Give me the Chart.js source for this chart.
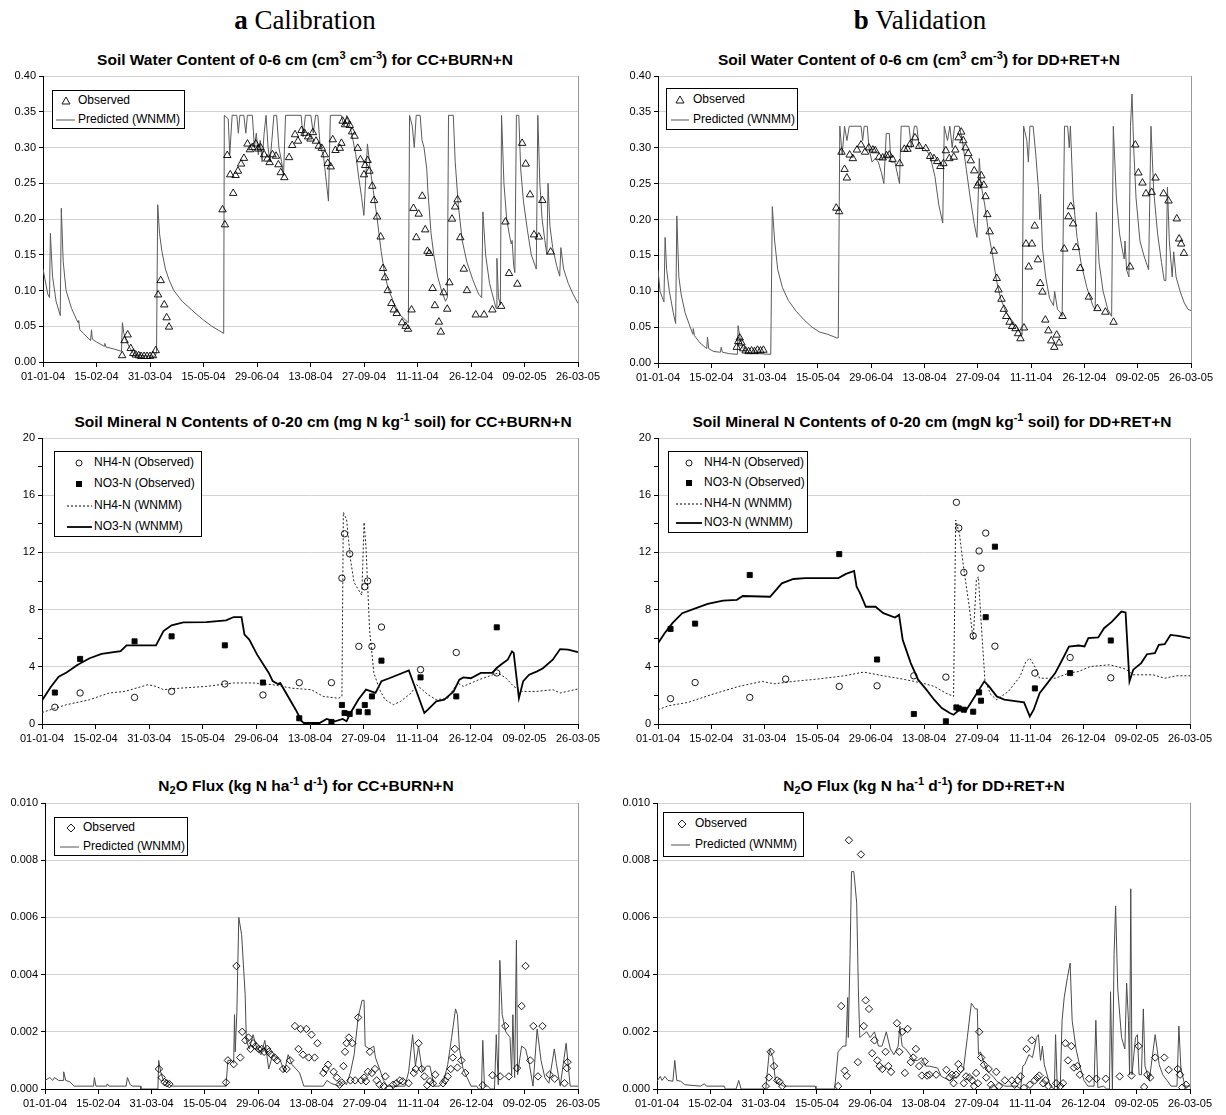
<!DOCTYPE html>
<html><head><meta charset="utf-8">
<script src="https://cdn.jsdelivr.net/npm/chart.js@4.4.0/dist/chart.umd.min.js"></script>
<style>
body{margin:0;background:#fff;width:1226px;height:1115px;position:relative;overflow:hidden;font-family:"Liberation Sans",Arial,sans-serif;color:#000;}
.hdr{position:absolute;font-family:"Liberation Serif","Times New Roman",serif;font-size:27px;width:400px;text-align:center;line-height:30px;}
.ttl{position:absolute;font-weight:bold;font-size:15.5px;width:640px;text-align:center;white-space:nowrap;line-height:18px;}
.ttl sup{font-size:11px;line-height:0;vertical-align:6px;}
.ttl sub{font-size:11px;line-height:0;vertical-align:-3px;}
.leg{position:absolute;border:1px solid #000;background:#fff;font-size:12px;box-sizing:border-box;}
.leg .row{position:absolute;left:0;white-space:nowrap;line-height:15px;}
.leg svg{position:absolute;left:0;top:0;}
canvas{position:absolute;}
</style>
</head><body>
<div class="hdr" style="left:105px;top:5px;"><b>a</b> Calibration</div>
<div class="hdr" style="left:720px;top:5px;"><b>b</b> Validation</div>
<div class="ttl" style="left:-15px;top:51px;">Soil Water Content of 0-6 cm (cm<sup>3</sup> cm<sup>-3</sup>) for CC+BURN+N</div>
<div class="ttl" style="left:599px;top:51px;">Soil Water Content of 0-6 cm (cm<sup>3</sup> cm<sup>-3</sup>) for DD+RET+N</div>
<div class="ttl" style="left:3px;top:413px;">Soil Mineral N Contents of 0-20 cm (mg N kg<sup>-1</sup> soil) for CC+BURN+N</div>
<div class="ttl" style="left:612px;top:413px;">Soil Mineral N Contents of 0-20 cm (mgN kg<sup>-1</sup> soil) for DD+RET+N</div>
<div class="ttl" style="left:-14px;top:777px;">N<sub>2</sub>O Flux (kg N ha<sup>-1</sup> d<sup>-1</sup>) for CC+BURN+N</div>
<div class="ttl" style="left:604px;top:777px;">N<sub>2</sub>O Flux (kg N ha<sup>-1</sup> d<sup>-1</sup>) for DD+RET+N</div>
<canvas id="c1"></canvas><canvas id="c2"></canvas><canvas id="c3"></canvas>
<canvas id="c4"></canvas><canvas id="c5"></canvas><canvas id="c6"></canvas>
<script>
// ---------- tick labels ----------
const xTickLabels = ['01-01-04','15-02-04','31-03-04','15-05-04','29-06-04','13-08-04','27-09-04','11-11-04','26-12-04','09-02-05','26-03-05'];
const ySwcTicks = ['0.00','0.05','0.10','0.15','0.20','0.25','0.30','0.35','0.40'];
const yMinNTicks = ['0','4','8','12','16','20'];
const yN2oTicks = ['0.000','0.002','0.004','0.006','0.008','0.010'];

// ---------- data: [day since 01-01-04, value] ----------
const swcA_obs = [[66.6,0.009],[68.6,0.030],[71.2,0.038],[73.8,0.019],[76,0.012],[78,0.01],[80.5,0.009],[82.5,0.008],[85,0.008],[87.5,0.008],[90,0.008],[92.5,0.009],[94.8,0.016],[96.8,0.094],[99,0.114],[102,0.080],[104,0.062],[106,0.049],
[151,0.213],[153,0.192],[155,0.289],[157.5,0.262],[160,0.236],[162,0.261],[164,0.267],[166.6,0.277],[169,0.285],[172,0.305],[174,0.297],[176,0.300],[179,0.305],[181,0.298],[183,0.300],[186,0.290],[188.6,0.284],[190.6,0.279],[193,0.290],[196,0.288],[198,0.276],[200,0.265],[203,0.258],[207,0.286],[209.6,0.303],[212,0.318],[214.5,0.309],[217.5,0.324],[220,0.320],[223,0.315],[225,0.312],[227,0.321],[229.6,0.309],[232,0.302],[234.5,0.299],[237,0.290],[239.5,0.278],[242,0.273],[243.7,0.311],[246,0.296],[249.6,0.299],[251,0.306],[252,0.337],[254,0.332],[256,0.337],[258,0.331],[260,0.322],[262,0.316],[264.7,0.299],[267,0.283],[270,0.262],[271,0.275],[273,0.282],[274.5,0.267],[277,0.246],[278.5,0.226],[281,0.203],[284,0.175],[286,0.131],[287.7,0.118],[290,0.100],[293,0.082],[295,0.073],[297.5,0.068],[302,0.055],[305,0.050],[307,0.046],[310,0.073],[311.6,0.215],[314,0.174],[316,0.207],[319,0.232],[321.5,0.185],[323.4,0.155],[325,0.152],[327.7,0.103],[329.6,0.079],[333,0.056],[334.6,0.042],[337,0.097],[340,0.074],[341.8,0.111],[344,0.200],[346.7,0.217],[348.7,0.227],[351,0.174],[354,0.130],[356.6,0.100],[364,0.066],[371,0.066],[378,0.073],[385.4,0.078],[389,0.196],[392,0.124],[399,0.109],[403,0.306],[406,0.277],[409.7,0.234],[413,0.178],[417,0.175],[420,0.226],[427,0.154]];

const swcA_pred = [[0,0.13],[4,0.095],[5.5,0.09],[6.2,0.18],[8,0.12],[11,0.085],[14.5,0.065],[15.4,0.215],[17,0.14],[19.4,0.10],[24,0.075],[28,0.06],[29.5,0.055],[30,0.058],[31,0.045],[34,0.04],[40,0.03],[40.8,0.045],[41.5,0.032],[45,0.028],[51.5,0.022],[52,0.026],[53,0.021],[60,0.018],[66,0.015],[66.8,0.055],[68,0.04],[70,0.03],[73,0.02],[76,0.012],[80,0.009],[94.5,0.008],[95.5,0.015],[96.5,0.22],[98,0.18],[100,0.155],[103,0.13],[106,0.115],[110,0.1],[117,0.085],[127,0.07],[134,0.06],[142,0.05],[152,0.04],
[152.5,0.345],[155.8,0.34],[157.1,0.29],[159.1,0.345],[163,0.345],[164.3,0.32],[165.6,0.345],[168.9,0.345],[170.6,0.32],[171.9,0.345],[176.1,0.345],[177.8,0.30],[179.4,0.32],[181.1,0.29],[182.7,0.31],[184.3,0.28],[186,0.32],[187.6,0.345],[189.3,0.30],[190.9,0.28],[192.5,0.31],[194.2,0.345],[196.5,0.345],[198.4,0.30],[200.7,0.28],[202.3,0.26],[204,0.345],[217.1,0.345],[218.8,0.315],[220.7,0.345],[225.3,0.345],[227.3,0.32],[229.3,0.345],[231.2,0.345],[233.2,0.30],[235.8,0.29],[237.8,0.26],[240.1,0.225],[241.7,0.345],[250.9,0.345],[253.2,0.33],[255.5,0.345],[258.1,0.33],[260.8,0.31],[263.1,0.29],[265.4,0.26],[268,0.23],[269.9,0.205],[272.9,0.305],[275.2,0.27],[277.8,0.24],[281.1,0.20],[284.4,0.155],[287.7,0.12],[290.9,0.10],[295.9,0.08],[300.8,0.065],[307.3,0.055],
[308.3,0.345],[310.6,0.33],[312.3,0.30],[313.9,0.345],[317.2,0.345],[318.8,0.31],[320.5,0.30],[322.8,0.27],[323.7,0.24],[326.4,0.18],[328.7,0.15],[331.9,0.12],[335.2,0.10],[338.5,0.085],[340.1,0.09],[341.1,0.345],[345.1,0.345],[346.7,0.28],[349.3,0.22],[352.6,0.17],[356.5,0.14],[361.5,0.115],[366.4,0.095],[369,0.09],[370,0.21],[372.3,0.15],[375.6,0.11],[379.5,0.085],[381.1,0.075],[381.8,0.145],[383.1,0.09],[384.7,0.08],[385.7,0.345],[387.7,0.25],[390,0.20],[392.6,0.175],[393.9,0.165],[394.6,0.17],[395.9,0.135],[396.9,0.125],[398.2,0.345],[400.2,0.345],[401.8,0.27],[404.1,0.225],[407.4,0.185],[410.7,0.15],[414.9,0.13],[416.2,0.345],[417.9,0.25],[419.8,0.20],[422.1,0.17],[423.8,0.15],[424.8,0.25],[426.4,0.19],[428.7,0.16],[432,0.135],[434.6,0.12],[435.6,0.16],[437.9,0.13],[441.8,0.11],[445.8,0.095],[450,0.082]];

const swcB_obs = [[150.5,0.216],[152.9,0.211],[154.9,0.294],[157.5,0.270],[159.5,0.258],[161.8,0.290],[164.5,0.285],[168,0.297],[171.4,0.304],[174.8,0.294],[178,0.300],[181.4,0.297],[183.4,0.296],[186.7,0.287],[189.7,0.286],[193,0.289],[195.3,0.290],[198,0.284],[204,0.278],[208,0.298],[210.6,0.298],[213,0.305],[217,0.314],[220.5,0.302],[226,0.299],[229.8,0.288],[233,0.285],[235.8,0.281],[238.4,0.274],[241,0.278],[243,0.296],[246,0.285],[249.7,0.287],[251,0.297],[253.7,0.314],[256,0.322],[257.7,0.310],[259.6,0.300],[262,0.292],[264,0.282],[267,0.268],[269.6,0.247],[271,0.251],[273,0.261],[275,0.248],[276.5,0.232],[278,0.207],[280,0.183],[283.5,0.156],[286,0.118],[287.5,0.102],[290,0.089],[292,0.075],[294,0.065],[296.8,0.057],[299,0.051],[301.8,0.048],[304,0.041],[306,0.034],[309,0.049],[310.7,0.166],[313,0.134],[315.7,0.166],[318,0.191],[320.7,0.144],[322.7,0.111],[324.6,0.099],[327,0.060],[329.6,0.045],[332,0.031],[334.6,0.022],[336.6,0.039],[338.6,0.028],[341.5,0.065],[343,0.159],[346.5,0.204],[348.5,0.218],[350.5,0.194],[353,0.161],[356.5,0.132],[363.8,0.092],[371,0.076],[377.7,0.071],[384.6,0.057],[398.6,0.134],[403,0.304],[405.6,0.265],[409,0.251],[412,0.236],[416.8,0.238],[420,0.258],[426.8,0.236],[431,0.226],[438,0.201],[440,0.173],[441.7,0.166],[444,0.153],
[66.5,0.022],[67.8,0.03],[69,0.035],[70.5,0.028],[72,0.02],[74,0.017],[76.5,0.016],[79,0.017],[81.5,0.016],[84,0.018],[86.5,0.017],[89,0.018]];

const swcB_pred = [[0,0.13],[1.7,0.10],[5,0.085],[6,0.175],[7.3,0.13],[9.6,0.10],[12.9,0.07],[14.9,0.055],[15.9,0.205],[17.6,0.12],[19.6,0.095],[22.9,0.07],[27.2,0.05],[29.5,0.04],[29.8,0.048],[30.8,0.038],[35.5,0.028],[41.1,0.02],[41.8,0.036],[42.8,0.02],[47.1,0.016],[52.7,0.015],[53.4,0.022],[54.4,0.015],[60.4,0.013],[67,0.012],[67.6,0.052],[69.3,0.035],[72,0.02],[74.6,0.014],[95.2,0.012],[96.5,0.218],[98.5,0.17],[101.1,0.13],[105.1,0.105],[110.1,0.087],[116.7,0.072],[123.4,0.06],[130,0.05],[136.6,0.043],[143.3,0.04],[150.9,0.035],[152.2,0.035],
[153.5,0.33],[155.5,0.29],[157.5,0.33],[159.5,0.31],[161.5,0.33],[171.4,0.33],[172.8,0.31],[174.1,0.33],[176.7,0.33],[178.1,0.30],[180.7,0.28],[183.4,0.285],[186,0.28],[188.7,0.265],[190.7,0.25],[192.7,0.32],[195.3,0.32],[196.6,0.28],[200,0.28],[202.6,0.26],[203.9,0.25],[205.3,0.33],[211.9,0.33],[213.9,0.30],[216.5,0.33],[218.5,0.33],[220.5,0.30],[224.5,0.30],[229.5,0.29],[233.8,0.26],[237.1,0.22],[240.4,0.195],[241.7,0.33],[244.4,0.31],[246.4,0.33],[248.4,0.30],[250.4,0.33],[254.3,0.33],[257,0.31],[260.3,0.27],[263.6,0.23],[266.9,0.195],[269.3,0.175],[271.3,0.285],[272.6,0.25],[275.9,0.22],[279.2,0.18],[282.5,0.15],[285.8,0.115],[289.2,0.09],[294.1,0.07],[300.8,0.055],[307.4,0.04],
[308.7,0.33],[311.4,0.31],[312.7,0.28],[314,0.33],[316.7,0.33],[319,0.29],[321.3,0.24],[322.3,0.20],[323,0.235],[324.6,0.16],[327.3,0.12],[330.6,0.09],[333.9,0.08],[334.9,0.10],[337.2,0.075],[339.9,0.07],[341.2,0.065],[343.2,0.33],[345.9,0.33],[347.2,0.30],[348.2,0.33],[350.5,0.23],[353.8,0.175],[357.1,0.14],[362.1,0.105],[367.1,0.08],[369.1,0.075],[370.1,0.21],[372.4,0.14],[375.8,0.10],[379.7,0.075],[383,0.065],[384.4,0.33],[387,0.23],[389.7,0.18],[392.3,0.155],[393.6,0.145],[394.3,0.17],[395.6,0.13],[397.6,0.12],[398.9,0.33],[400.2,0.375],[401.6,0.30],[403.6,0.23],[406.9,0.17],[410.2,0.15],[414.2,0.13],[416.2,0.33],[418.5,0.24],[421.8,0.18],[425.1,0.14],[427.4,0.115],[428.8,0.115],[430.1,0.245],[431.7,0.17],[434.1,0.12],[435.4,0.155],[437.4,0.12],[440.8,0.10],[444,0.085],[447.3,0.075],[450,0.073]];

const nA_nh4_obs = [[10.8,1.17],[32,2.17],[77.7,1.86],[108.8,2.28],[153.5,2.8],[185.5,2.03],[216,2.89],[243,2.89],[251.8,10.2],[254,13.3],[258.3,11.9],[266,5.43],[271,9.6],[273.4,10.0],[277,5.43],[285,6.78],[317.8,3.8],[347.8,5.0],[381.8,3.57]];
const nA_no3_obs = [[10.8,2.2],[32,4.55],[77.7,5.78],[108.8,6.13],[153.5,5.5],[185.5,2.9],[216,0.4],[243,0.14],[251.8,1.33],[254,0.77],[258.3,0.7],[266,0.86],[271,1.33],[273.4,0.82],[277,1.93],[285,4.43],[317.8,3.26],[347.8,1.93],[381.8,6.76]];
const nA_nh4_pred = [[0,0.8],[10.8,1.1],[20.6,1.35],[40,1.7],[56.5,2.17],[69.6,2.28],[89,2.75],[95.7,2.63],[102,2.4],[115,2.5],[138,2.63],[161,2.87],[177,2.87],[193.7,2.75],[210,2.5],[226,2.4],[236,1.93],[249,1.8],[251.8,1.93],[253,14.8],[255.7,14.3],[259,11.5],[262,9.9],[267,9.2],[268.5,9.0],[270.4,14.1],[272,12.4],[275,6.6],[278.6,3.57],[283.5,2.4],[288,1.7],[295,1.35],[301,1.58],[310,2.17],[314.5,2.75],[324,2.05],[331,1.7],[340.6,1.8],[348.8,2.87],[353.7,2.63],[366.8,3.1],[383,3.57],[389.6,3.2],[396,2.63],[402.6,2.28],[415.7,2.28],[428.8,2.4],[435,2.17],[450,2.45]];
const nA_no3_pred = [[0,1.65],[7.5,2.6],[14,3.3],[20.6,3.6],[30,4.15],[40,4.6],[50,4.9],[66,5.1],[71,5.5],[95.7,5.5],[102,6.5],[108.8,6.9],[118.6,7.1],[138,7.13],[154.5,7.25],[161,7.48],[167.5,7.48],[170,6.25],[174,5.9],[180.6,4.85],[190.4,3.57],[193.7,3.0],[198,2.8],[200,2.87],[213,1.0],[218,0.19],[219.8,0.07],[233,0.07],[239,0.35],[246,0.19],[252.5,0.35],[255.7,0.19],[259,0.77],[265.5,1.7],[272,2.4],[280,2.17],[285,3.0],[291.6,3.2],[308,3.75],[321,0.77],[324,1.0],[331,1.58],[337.7,1.7],[345.6,2.28],[350.4,3.1],[353.7,3.26],[360,3.2],[368.4,3.57],[378,3.57],[381.5,3.9],[386,4.2],[391,4.5],[394.6,5.08],[396,4.97],[400.4,1.8],[404,3.0],[409,3.45],[415.7,3.68],[420.6,3.9],[428.8,4.5],[435,5.24],[441.7,5.2],[450,5.03]];

const nB_nh4_obs = [[10.6,1.77],[31.4,2.9],[77.6,1.86],[108,3.14],[153.3,2.63],[185.3,2.67],[216.4,3.37],[243.5,3.28],[252.4,15.5],[254.4,13.7],[258.7,10.6],[266.6,6.16],[271.6,12.1],[273.2,10.9],[277.2,13.35],[285,5.44],[318.8,3.56],[348.6,4.65],[383,3.23]];
const nB_no3_obs = [[10.6,6.65],[31.4,7.02],[77.6,10.42],[153.3,11.88],[185.3,4.51],[216.4,0.7],[243.5,0.19],[252.4,1.16],[254.4,1.09],[258.7,1.0],[266.6,0.86],[271.6,2.21],[273.2,1.63],[277.2,7.47],[285,12.4],[318.8,2.49],[348.6,3.56],[383,5.84]];
const nB_nh4_pred = [[0,1.0],[9,1.28],[25.4,1.51],[45,2.05],[68.4,2.63],[88.2,2.98],[98,2.81],[114.6,2.98],[134.5,3.14],[157.6,3.37],[174,3.63],[190.6,3.37],[207,3.14],[223.7,2.86],[233.6,2.63],[243.5,2.16],[250,1.93],[251.8,14.26],[255,13.3],[258.4,11.0],[263.3,8.2],[266.6,5.88],[269.3,10.07],[271,10.3],[273.2,7.28],[276.5,3.1],[281.5,2.05],[286.5,1.7],[296.4,2.28],[306.3,3.33],[311.2,4.37],[314.5,4.6],[319.5,3.9],[322.8,3.2],[336,3.2],[347.6,3.56],[355.8,3.67],[365.7,4.02],[382.3,4.14],[395.5,3.84],[402,3.44],[418.6,3.44],[428.6,3.2],[438.5,3.37],[450,3.37]];
const nB_no3_pred = [[0,5.65],[5.6,6.35],[12.2,7.05],[20.5,7.75],[28.7,8.0],[42,8.4],[55,8.63],[66.7,8.68],[71.7,8.95],[94.8,8.9],[104.7,9.84],[114.6,10.14],[124.6,10.2],[152.6,10.2],[159,10.5],[165.9,10.7],[168,9.6],[171,9.14],[175.8,8.2],[184,8.2],[190.6,7.75],[200.5,7.44],[203.9,7.63],[207,5.88],[213.8,4.26],[220,3.1],[227,2.4],[233.6,1.7],[240,1.12],[246.8,0.77],[250,0.65],[255,1.0],[260,0.88],[268,1.93],[276,2.98],[280,2.63],[286.5,1.93],[293,1.7],[309.6,1.51],[314.5,0.53],[317.8,1.0],[322.8,2.16],[329.4,2.86],[336,3.56],[342.6,4.6],[347.6,5.42],[355.8,5.49],[360.8,5.42],[364,6.0],[372.4,6.05],[377.3,6.7],[384,7.16],[392,7.86],[395.5,7.8],[398.8,2.98],[402,3.8],[408.7,4.26],[413.6,4.88],[420.3,4.95],[423.6,5.53],[428.6,5.58],[433.5,6.23],[440,6.16],[450,6.0]];

const n2oA_obs = [[96.2,0.0007],[98.5,0.0004],[100.9,0.00024],[102.8,0.0002],[105,0.00017],[152.8,0.00023],[154.4,0.001],[159.3,0.00087],[161.6,0.0043],[164.9,0.0011],[166.5,0.002],[169.2,0.0017],[171.8,0.0018],[173.5,0.0014],[175.7,0.0016],[178,0.0015],[180.3,0.0014],[183,0.0014],[185,0.0013],[187.6,0.0014],[189,0.0013],[191,0.0012],[193.8,0.0011],[196,0.001],[201,0.0007],[204,0.0007],[207,0.001],[211,0.0022],[214,0.0014],[215.8,0.0021],[217.8,0.0012],[220.7,0.0021],[222.7,0.0011],[225,0.0019],[227.6,0.0011],[230,0.0016],[235,0.00056],[237,0.0007],[239,0.00085],[243.7,0.0006],[246.4,0.0004],[248.7,0.00015],[250.6,0.00023],[252,0.0008],[253.3,0.0013],[254.6,0.0016],[256.6,0.0018],[259.5,0.0016],[257.9,0.0003],[261.8,0.0003],[264.4,0.0025],[267,0.0003],[269.4,0.0004],[271,0.00027],[272.7,0.0006],[274.3,0.0013],[276,0.00056],[278.6,0.0007],[280,0.0003],[282.5,0.00015],[285.8,0.0001],[287.4,0.00044],[290.7,0.00003],[294,0.00015],[296.6,0.0002],[299.6,0.0003],[302,0.00027],[307,0.0002],[311.4,0.00056],[313,0.0007],[315.4,0.0016],[318,0.0007],[320.3,0.00044],[322.6,0.00013],[325,0.00027],[327.5,0.0002],[329.5,0.0005],[336,0.0002],[337.7,0.0003],[340,0.00044],[342.6,0.0007],[344.3,0.0011],[346,0.0014],[348.2,0.00075],[351.5,0.001],[354.8,0.00056],[369.6,0.00013],[377.8,0.00048],[384.3,0.00044],[388.6,0.0022],[391.6,0.00044],[398.5,0.00073],[402.4,0.0029],[405.7,0.0043],[409.7,0.001],[412.3,0.0022],[416.2,0.00044],[420,0.0022],[426,0.0005],[430.3,0.00036],[438.6,0.0002],[440.6,0.00073],[441.2,0.00094]];
const n2oA_pred = [[0,0.0003],[4,0.0004],[6.5,0.0003],[8,0.0004],[11.5,0.0003],[15.2,0.0003],[15.8,0.0006],[17.5,0.0003],[21,0.00025],[24.6,0.0001],[41,0.0001],[41.7,0.0004],[43,0.0001],[52,0.0001],[52.6,0.00018],[54,0.0001],[68.5,0.0001],[69.6,0.0004],[72,0.00015],[73.9,0.0001],[80.5,0.0001],[81,0],[95.3,0],[96,0.001],[97.6,0.0006],[100,0.0003],[103.5,0.0002],[106.8,0.0001],[152.8,0.0001],[154.4,0.001],[157.7,0.001],[159.3,0.0009],[160,0.0026],[160.6,0.0013],[162,0.0027],[163.6,0.006],[166,0.0054],[169,0.0033],[170,0.0017],[172.5,0.0014],[175.7,0.0019],[179,0.0014],[182.3,0.0012],[185.6,0.0017],[188.9,0.0007],[192.2,0.0012],[198.7,0.001],[202,0.0006],[205.3,0.0012],[208.6,0.00085],[212,0.0007],[215,0.00056],[218.5,0.0001],[235,0.0001],[238,0.0003],[241.4,0.0002],[248,0.0001],[251.3,0.00027],[254.5,0.00015],[258,0.0006],[261,0.0012],[264.4,0.0025],[267.7,0.0031],[269.4,0.0031],[270.3,0.0015],[274,0.0014],[277.6,0.0015],[279,0.0011],[282.5,0.0007],[285.8,0.0003],[289,0.0001],[303.9,0.0001],[307,0.0006],[310.4,0.0019],[312.7,0.0008],[315.4,0.0015],[318.6,0.0006],[322,0.0008],[325,0.0008],[328.5,0.0001],[333,0.0001],[336.7,0.0003],[340,0.00085],[343.3,0.0018],[346.6,0.0028],[348.2,0.0026],[349.9,0.0014],[353,0.0007],[356.4,0.0004],[359.7,0.0001],[364.5,0.0001],[366,0],[368.5,0],[369.6,0.0017],[371,0.0001],[374,0.0001],[376,0],[379.5,0],[381,0.0019],[382.7,0.00015],[384,0.0045],[386,0.0026],[389,0.002],[392.6,0.0018],[394,0.0005],[395,0.0026],[396.5,0.0004],[398,0.0052],[399,0.0005],[402.4,0.0015],[405.7,0.0014],[409,0.00085],[412,0.0001],[415.5,0.0021],[418.8,0.001],[422,0.0004],[425.4,0.0002],[430,0.0014],[431.7,0.0009],[435,0.0001],[440,0.0016],[443.4,0.0001],[450,0.0001]];

const n2oB_obs = [[91.8,0.0001],[94.5,0.0004],[96,0.0013],[98.8,0.0008],[101.5,0.0003],[103.5,0.00025],[105.8,0.0001],[152.9,0.0001],[155.5,0.0029],[158.5,0.00064],[160.2,0.00046],[162,0.0087],[169.6,0.00094],[172.2,0.0082],[174.6,0.0022],[176.2,0.0031],[179,0.0028],[181.6,0.00125],[183.6,0.0017],[186,0.001],[188,0.0008],[190.2,0.0007],[193,0.0013],[195.3,0.0008],[197.6,0.0006],[202.6,0.0023],[204.6,0.0013],[207,0.002],[209.3,0.00056],[211.6,0.0021],[214.3,0.00094],[216.3,0.0011],[218.6,0.0014],[221.3,0.0008],[223.6,0.00047],[226,0.00096],[228,0.00047],[230,0.0005],[235.7,0.0005],[244.3,0.00067],[247,0.0004],[249,0.0005],[250.4,0.0002],[252.4,0.0005],[254.4,0.00087],[256.4,0.0007],[259,0.0002],[261,0.00044],[263.7,0.0004],[266,0.0003],[267.7,0.0001],[269.4,0.00056],[271,0.0002],[272,0.002],[273.7,0.0011],[276,0.00085],[278,0.0004],[280,0.0007],[282,0.00015],[283.7,0.00003],[286.4,0.0006],[288.7,0.0001],[293.7,0.0003],[299.7,0.0003],[302,0.00015],[304.4,0.0003],[307,0.00044],[309.8,0.00004],[312,0.0014],[314.8,0.00015],[316.4,0.0017],[318.8,0.0003],[321,0.0004],[322.8,0.00047],[326,0.0002],[328,0.0003],[330.5,0.0001],[337,0.0002],[340.5,0.0001],[342.8,0.0002],[344.8,0.0016],[347,0.001],[349.8,0.0015],[352,0.00075],[354.8,0.0008],[357,0.0005],[364.8,0.00036],[371,0.00036],[378.9,0.00036],[390.6,0.00044],[400.6,0.00047],[406.6,0.0015],[411.3,0.00007],[414,0.0005],[416.4,0.0004],[420.6,0.0011],[428.3,0.0011],[432,0.00067],[439.6,0.0007],[441.6,0.0005],[443.4,0.00005],[446.7,0.00015]];
const n2oB_pred = [[0,0.00027],[2.7,0.00044],[4.3,0.0003],[6.7,0.00044],[9.3,0.0003],[13.4,0.00027],[15,0.001],[16.7,0.0003],[20,0.00027],[23.4,0.00015],[36.7,0.0001],[40,0.00018],[41.7,0.0001],[56.7,0.0001],[57.7,0],[66.8,0],[69,0.0003],[71,0],[91.8,0],[95,0.0014],[97.8,0.0011],[100,0.0003],[103.5,0.00018],[106.8,0.0001],[133.5,0.0001],[134.2,0],[150,0],[152.9,0.0013],[157,0.0015],[159.5,0.0015],[161,0.0032],[161.5,0.0018],[163,0.0047],[164.2,0.0076],[166.2,0.0076],[168.6,0.0065],[170,0.0035],[171.2,0.0018],[174,0.0019],[177,0.002],[180,0.0018],[183.6,0.002],[187,0.0015],[190,0.0015],[193.6,0.002],[197,0.0014],[200,0.0012],[203.6,0.0015],[205,0.0022],[207,0.0015],[210,0.0014],[213.6,0.0012],[217,0.001],[220,0.001],[223.6,0.0011],[227,0.0008],[230,0.0008],[237,0.00073],[240,0.00044],[247,0.0003],[253.7,0.00044],[258.7,0.00067],[262,0.0018],[265.4,0.003],[268.7,0.0028],[270.4,0.0028],[271.4,0.0012],[273,0.0013],[277,0.0008],[280.4,0.00056],[283.7,0.00044],[287,0.00027],[293.7,0.0001],[303.8,0.0001],[307,0],[308.8,0.0008],[310.4,0.00085],[314,0.0012],[317,0.0011],[320.4,0.0018],[322,0.0019],[323.8,0.001],[325.4,0.0015],[327,0.00085],[332,0.0001],[335.5,0],[336.5,0.0019],[338,0],[340.5,0.00015],[342,0.0024],[343.8,0.0032],[346.5,0.0039],[348.8,0.0044],[350.5,0.0024],[353.8,0.0014],[357,0.0008],[360.5,0.0003],[363.8,0.0001],[369,0.0001],[370.5,0.0024],[372.2,0.00005],[377,0.0001],[379.6,0],[382,0],[382.9,0.0034],[384.5,0],[385.9,0.0047],[387.2,0.0064],[389,0.0035],[392.2,0.0018],[395,0.0014],[396.5,0.0037],[398,0.0024],[399,0.0005],[400,0.007],[401,0.0005],[404,0.0018],[405.6,0.0019],[407,0.0005],[409,0.0005],[410.6,0.0028],[412,0.0008],[415.6,0.0003],[420.6,0.0019],[424,0.00085],[427,0.0005],[430.6,0.0003],[434,0.0001],[439,0.0001],[440.6,0.0022],[442.3,0.00073],[445.7,0.0001],[450,0.0001]];

// ---------- helpers ----------
Chart.defaults.font.family = '"Liberation Sans", Arial, sans-serif';
Chart.defaults.font.size = 11;
Chart.defaults.color = '#000';
const pts = a => a.map(p => ({x: p[0], y: p[1]}));
const YW = 48, PT = 10, PR = 28, XH = 30;

const rightBorder = {
  id: 'rightBorder',
  afterDraw(chart) {
    const a = chart.chartArea, c = chart.ctx;
    c.save(); c.strokeStyle = '#9a9a9a'; c.lineWidth = 1;
    c.beginPath(); c.moveTo(Math.round(a.right) + 0.5, a.top); c.lineTo(Math.round(a.right) + 0.5, a.bottom); c.stroke();
    c.restore();
  }
};

function makeChart(id, rect, yCfg, datasets) {
  const cv = document.getElementById(id);
  const w = rect.R - rect.L + YW + PR, h = rect.B - rect.T + PT + XH;
  cv.width = w; cv.height = h;
  cv.style.left = (rect.L - YW) + 'px'; cv.style.top = (rect.T - PT) + 'px';
  cv.style.width = w + 'px'; cv.style.height = h + 'px';
  return new Chart(cv, {
    type: 'scatter',
    data: { datasets },
    options: {
      responsive: false, animation: false, devicePixelRatio: 1, events: [],
      layout: { padding: { left: 0, top: PT, right: PR, bottom: 0 } },
      plugins: { legend: { display: false }, tooltip: { enabled: false }, title: { display: false } },
      scales: {
        x: {
          type: 'linear', min: 0, max: 450,
          afterFit: s => { s.height = XH; },
          ticks: { stepSize: 45, autoSkip: false, maxRotation: 0, padding: 3, font: { size: 11 }, color: '#000',
                   callback: v => xTickLabels[Math.round(v / 45)] },
          grid: { drawOnChartArea: false, drawTicks: true, tickLength: 5, tickColor: '#000' },
          border: { display: true, color: '#000', width: 1 }
        },
        y: {
          type: 'linear', min: yCfg.min, max: yCfg.max,
          afterFit: s => { s.width = YW; },
          ticks: { stepSize: yCfg.step, autoSkip: false, padding: 3, font: { size: 11 }, color: '#000', callback: yCfg.cb },
          grid: { color: yCfg.gridColor || '#d2d2d2', lineWidth: 1, tickLength: 4, tickColor: '#000' },
          border: { display: true, color: '#000', width: 1 }
        }
      }
    },
    plugins: [rightBorder]
  });
}

const hollow = 'rgba(0,0,0,0)';
const swcY = { min: 0, max: 0.4, step: 0.05, cb: v => ySwcTicks[Math.round(v / 0.05)] };
const nY = { min: 0, max: 20, step: 2, cb: v => (Math.round(v) % 4 === 0 ? yMinNTicks[Math.round(v / 4)] : ''),
  gridColor: ctx => (ctx.tick && Math.round(ctx.tick.value) % 4 !== 0) ? 'rgba(0,0,0,0)' : '#d2d2d2' };
const n2oY = { min: 0, max: 0.01, step: 0.002, cb: v => yN2oTicks[Math.round(v / 0.002)] };

function obsSet(data, style, r, filled) {
  return { data: pts(data), showLine: false, pointStyle: style, pointRadius: r, borderColor: '#000',
    pointBorderWidth: 0.9, backgroundColor: filled ? '#000' : hollow, pointBackgroundColor: filled ? '#000' : hollow };
}
function lineSet(data, color, width, dash) {
  return { data: pts(data), showLine: true, pointRadius: 0, borderColor: color, borderWidth: width,
    borderDash: dash || [], tension: 0, fill: false };
}

makeChart('c1', {L:43,T:76,R:578,B:362}, swcY, [obsSet(swcA_obs,'triangle',4.3), lineSet(swcA_pred,'#5a5a5a',1)]);
makeChart('c2', {L:658,T:76,R:1191,B:363}, swcY, [obsSet(swcB_obs,'triangle',4.3), lineSet(swcB_pred,'#5a5a5a',1)]);
makeChart('c3', {L:42,T:438,R:578,B:724}, nY, [obsSet(nA_nh4_obs,'circle',3.2), obsSet(nA_no3_obs,'rect',3.6,true), lineSet(nA_nh4_pred,'#222',1,[2,2]), lineSet(nA_no3_pred,'#000',1.8)]);
makeChart('c4', {L:658,T:438,R:1190,B:724}, nY, [obsSet(nB_nh4_obs,'circle',3.2), obsSet(nB_no3_obs,'rect',3.6,true), lineSet(nB_nh4_pred,'#222',1,[2,2]), lineSet(nB_no3_pred,'#000',1.8)]);
makeChart('c5', {L:45,T:803,R:578,B:1089}, n2oY, [obsSet(n2oA_obs,'rectRot',3.7), lineSet(n2oA_pred,'#4a4a4a',1)]);
makeChart('c6', {L:657,T:803,R:1190,B:1089}, n2oY, [obsSet(n2oB_obs,'rectRot',3.7), lineSet(n2oB_pred,'#4a4a4a',1)]);

// ---------- HTML legends ----------
function icon(kind, cx, cy, x1, x2) {
  if (kind === 'tri') return `<polygon points="${cx},${cy-4} ${cx-4},${cy+3} ${cx+4},${cy+3}" fill="none" stroke="#000" stroke-width="0.9"/>`;
  if (kind === 'circ') return `<circle cx="${cx}" cy="${cy}" r="3" fill="none" stroke="#000" stroke-width="0.9"/>`;
  if (kind === 'sq') return `<rect x="${cx-3}" y="${cy-3}" width="6" height="6" fill="#000"/>`;
  if (kind === 'dia') return `<polygon points="${cx},${cy-4} ${cx+4},${cy} ${cx},${cy+4} ${cx-4},${cy}" fill="none" stroke="#000" stroke-width="0.9"/>`;
  if (kind === 'line') return `<line x1="${x1}" y1="${cy}" x2="${x2}" y2="${cy}" stroke="#555" stroke-width="1"/>`;
  if (kind === 'dot') return `<line x1="${x1}" y1="${cy}" x2="${x2}" y2="${cy}" stroke="#000" stroke-width="1" stroke-dasharray="2,2"/>`;
  if (kind === 'thick') return `<line x1="${x1}" y1="${cy}" x2="${x2}" y2="${cy}" stroke="#000" stroke-width="1.8"/>`;
}
function legend(box, entries, rows, ix, lx1, lx2, tx) {
  const d = document.createElement('div');
  d.className = 'leg';
  d.style.left = box[0] + 'px'; d.style.top = box[1] + 'px';
  d.style.width = box[2] + 'px'; d.style.height = box[3] + 'px';
  let svg = `<svg width="${box[2]}" height="${box[3]}">`;
  let html = '';
  entries.forEach((e, i) => {
    svg += icon(e[0], ix, rows[i], lx1, lx2);
    html += `<div class="row" style="left:${tx}px;top:${rows[i]-8}px">${e[1]}</div>`;
  });
  svg += '</svg>';
  d.innerHTML = svg + html;
  document.body.appendChild(d);
}
legend([52,90,133,39], [['tri','Observed'],['line','Predicted (WNMM)']], [10,29], 13, 3, 22, 25);
legend([666,88,132,42], [['tri','Observed'],['line','Predicted (WNMM)']], [11,31], 13, 4, 22, 26);
legend([54,451,148,86], [['circ','NH4-N (Observed)'],['sq','NO3-N (Observed)'],['dot','NH4-N (WNMM)'],['thick','NO3-N (WNMM)']], [11,32,54,75], 24, 12, 37, 39);
legend([668,451,140,82], [['circ','NH4-N (Observed)'],['sq','NO3-N (Observed)'],['dot','NH4-N (WNMM)'],['thick','NO3-N (WNMM)']], [11,31,52,71], 20, 7, 33, 35);
legend([54,817,134,39], [['dia','Observed'],['line','Predicted (WNMM)']], [10,29], 16, 5, 24, 28);
legend([663,812,141,45], [['dia','Observed'],['line','Predicted (WNMM)']], [11,32], 18, 7, 26, 31);
</script>
</body></html>
